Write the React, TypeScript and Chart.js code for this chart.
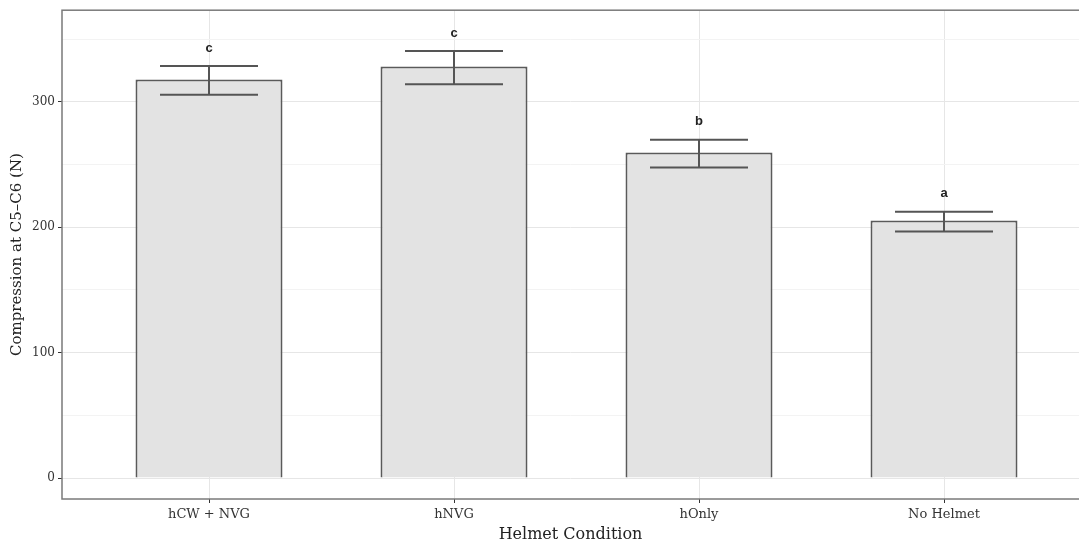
import { useEffect, useRef } from "react";
import { Chart, registerables } from "chart.js";
Chart.register(...registerables);

const categories = ["hCW + NVG", "hNVG", "hOnly", "No Helmet"];
const means = [317.8, 328.2, 259.6, 205.4];
const errLow = [305.5, 314.0, 247.5, 196.5];
const errHigh = [328.5, 340.5, 269.8, 212.4];
const groupLetters = ["c", "c", "b", "a"];
const yTicks = [0, 100, 200, 300];
const yMinorTicks = [50, 150, 250, 350];

const SERIF = "'DejaVu Serif', 'Liberation Serif', serif";

const overlayPlugin = {
  id: "overlay",
  beforeDraw(chart: any) {
    const { ctx } = chart;
    ctx.save();
    ctx.fillStyle = "#ffffff";
    ctx.fillRect(0, 0, chart.width, chart.height);
    ctx.restore();
  },
  afterDatasetsDraw(chart: any) {
    const { ctx, chartArea, scales } = chart;
    const xs = scales.x;
    const ys = scales.y;
    ctx.save();
    ctx.strokeStyle = "#555555";
    ctx.lineWidth = 2;
    const halfW = xs.getPixelForValue(1.2) - xs.getPixelForValue(1);
    means.forEach((_, i) => {
      const cx = xs.getPixelForValue(i + 1);
      const yl = ys.getPixelForValue(errLow[i]);
      const yh = ys.getPixelForValue(errHigh[i]);
      ctx.beginPath();
      ctx.moveTo(cx - halfW, yh);
      ctx.lineTo(cx + halfW, yh);
      ctx.moveTo(cx - halfW, yl);
      ctx.lineTo(cx + halfW, yl);
      ctx.moveTo(cx, yh);
      ctx.lineTo(cx, yl);
      ctx.stroke();
      ctx.fillStyle = "#222222";
      ctx.font = "bold 13px 'Liberation Sans', Arial, sans-serif";
      ctx.textAlign = "center";
      ctx.textBaseline = "middle";
      ctx.fillText(groupLetters[i], cx, yh - 18);
    });
    ctx.strokeStyle = "#7a7a7a";
    ctx.lineWidth = 1.5;
    ctx.strokeRect(chartArea.left, chartArea.top, chartArea.right - chartArea.left + 5, chartArea.bottom - chartArea.top);
    ctx.restore();
  },
};

export default function App() {
  const ref = useRef<HTMLCanvasElement>(null);
  useEffect(() => {
    if (!ref.current) return;
    const chart = new Chart(ref.current, {
      type: "bar",
      data: {
        datasets: [
          {
            data: means.map((v, i) => ({ x: i + 1, y: v })),
            backgroundColor: "#e3e3e3",
            borderColor: "#5a5a5a",
            borderWidth: 2,
            barPercentage: 0.6,
            categoryPercentage: 1,
          },
        ],
      },
      plugins: [overlayPlugin],
      options: {
        animation: false,
        responsive: true,
        maintainAspectRatio: false,
        layout: { padding: { top: 9, right: 0, left: 0, bottom: 0 } },
        plugins: { legend: { display: false }, tooltip: { enabled: false } },
        scales: {
          x: {
            type: "linear",
            min: 0.4,
            max: 4.551,
            offset: false,
            afterBuildTicks: (s: any) => {
              s.ticks = categories.map((_, i) => ({ value: i + 1 }));
            },
            afterFit: (s: any) => {
              s.height = 45;
            },
            border: { display: false },
            grid: {
              offset: false,
              color: "#e6e6e6",
              lineWidth: 1,
              tickLength: 4,
              tickColor: "#333333",
            },
            ticks: {
              autoSkip: false,
              maxRotation: 0,
              padding: 4,
              color: "#333333",
              font: { family: SERIF, size: 13 },
              callback: (v: any) => categories[Number(v) - 1] ?? "",
            },
            title: {
              display: true,
              text: "Helmet Condition",
              color: "#222222",
              font: { family: SERIF, size: 16 },
              padding: { top: 0, bottom: 0 },
            },
          },
          y: {
            type: "linear",
            min: -16.7,
            max: 373,
            afterBuildTicks: (s: any) => {
              s.ticks = [...yTicks, ...yMinorTicks]
                .sort((a, b) => a - b)
                .map((v) => ({ value: v }));
            },
            afterFit: (s: any) => {
              s.width = 62;
            },
            border: { display: false },
            grid: {
              color: (c: any) => (yTicks.includes(c.tick?.value) ? "#e6e6e6" : "#f3f3f3"),
              lineWidth: 1,
              tickLength: 4,
              tickColor: (c: any) => (yTicks.includes(c.tick?.value) ? "#333333" : "rgba(0,0,0,0)"),
            },
            ticks: {
              padding: 3,
              color: "#333333",
              font: { family: SERIF, size: 12 },
              callback: (v: any) => (yTicks.includes(Number(v)) ? String(v) : ""),
            },
            title: {
              display: true,
              text: "Compression at C5–C6 (N)",
              color: "#222222",
              font: { family: SERIF, size: 15 },
              padding: { top: 8, bottom: 0 },
            },
          },
        },
      },
    });
    return () => chart.destroy();
  }, []);
  return (
    <div style={{ position: "absolute", left: 0, top: 0, width: 1079, height: 544 }}>
      <canvas ref={ref} />
    </div>
  );
}
